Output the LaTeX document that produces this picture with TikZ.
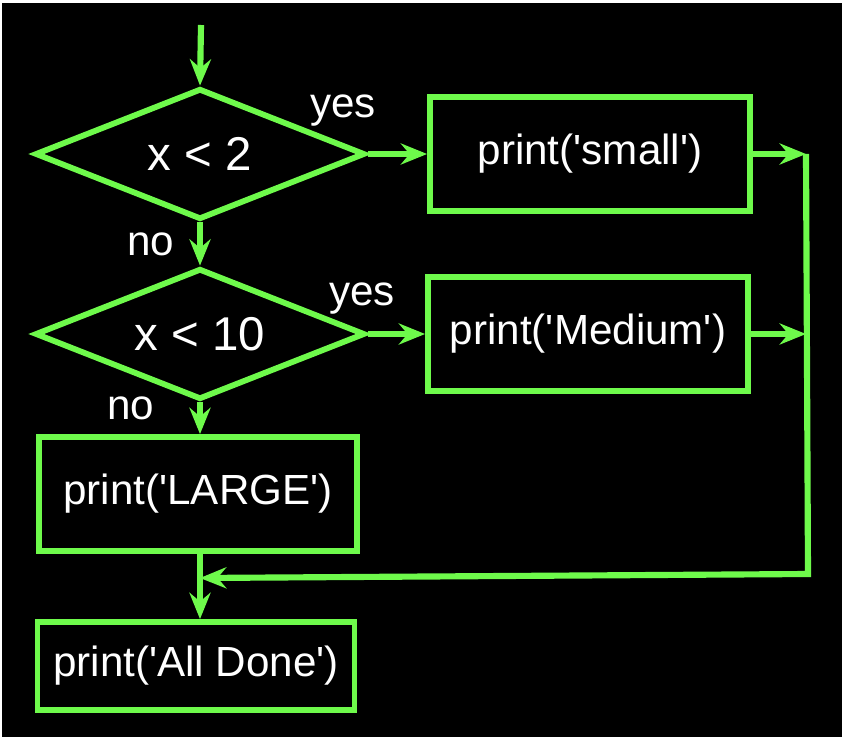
\documentclass[tikz,border=0pt]{standalone}
\usepackage{fontspec}
\setmainfont{Liberation Sans}
\usetikzlibrary{positioning}
\usetikzlibrary{shapes.geometric}
\usetikzlibrary{arrows.meta}
\definecolor{flowgreen}{RGB}{110,250,75}
\newcommand\sq{\textquotesingle}
\tikzset{
  decision/.style={diamond, draw=flowgreen, line width=3.3pt, aspect=2.5,
    minimum width=6.6cm, minimum height=2.62cm, inner sep=0pt, text=white,
    font=\fontsize{27}{32}\selectfont},
  process/.style={rectangle, draw=flowgreen, line width=3.3pt, minimum width=6.4cm,
    minimum height=2.28cm, inner sep=0pt, text=white, font=\fontsize{24}{28}\selectfont},
  answer/.style={anchor=base, text=white, inner sep=0pt, font=\fontsize{24}{28}\selectfont},
  flow/.style={draw=flowgreen, line width=3.5pt,
    -{Stealth[length=15pt, width=12pt, inset=5pt]}}
}

\begin{document}
\begin{tikzpicture}[x=0.02cm, y=-0.02cm]
\useasboundingbox (0,0) rectangle (842,740);
\fill[white] (0,0) rectangle (842,740);
\fill[black] (2,3) rectangle (842,737);

\node[decision] (lt2) at (200,154) {x < 2};
\node[process] (small) at (590,154) {print(\sq small\sq)};
\node[decision] (lt10) at (200,334) {x < 10};
\node[process] (medium) at (588,334) {print(\sq Medium\sq)};
\node[process, minimum width=6.36cm] (large) at (198,494) {print(\sq LARGE\sq)};
\node[process, minimum width=6.34cm, minimum height=1.76cm] (done) at (196,666) {print(\sq All Done\sq)};

\node[answer] (yes1) at (343,118) {yes};
\node[answer] (no1) at (151,255) {no};
\node[answer] (yes2) at (362,305) {yes};
\node[answer] (no2) at (131,419) {no};

\coordinate (start) at (201,25);
\coordinate (right1) at (806,154);
\coordinate (right2) at (806,334);
\coordinate (corner) at (808,574);
\coordinate (join) at (200,578);

\draw[flow] (start) -- (lt2.north);
\draw[flow] (lt2.east) -- (small.west);
\draw[flow] (small.east) -- (right1);
\draw[flow] (lt2.south) -- (lt10.north);
\draw[flow] (lt10.east) -- (medium.west);
\draw[flow] (medium.east) -- (right2);
\draw[flow] (lt10.south) -- (large.north -| lt10.south);
\draw[flow] (large.south -| join) -- (done.north -| join);
\draw[flow] (right1) -- (corner) -- (join);

\end{tikzpicture}
\end{document}
